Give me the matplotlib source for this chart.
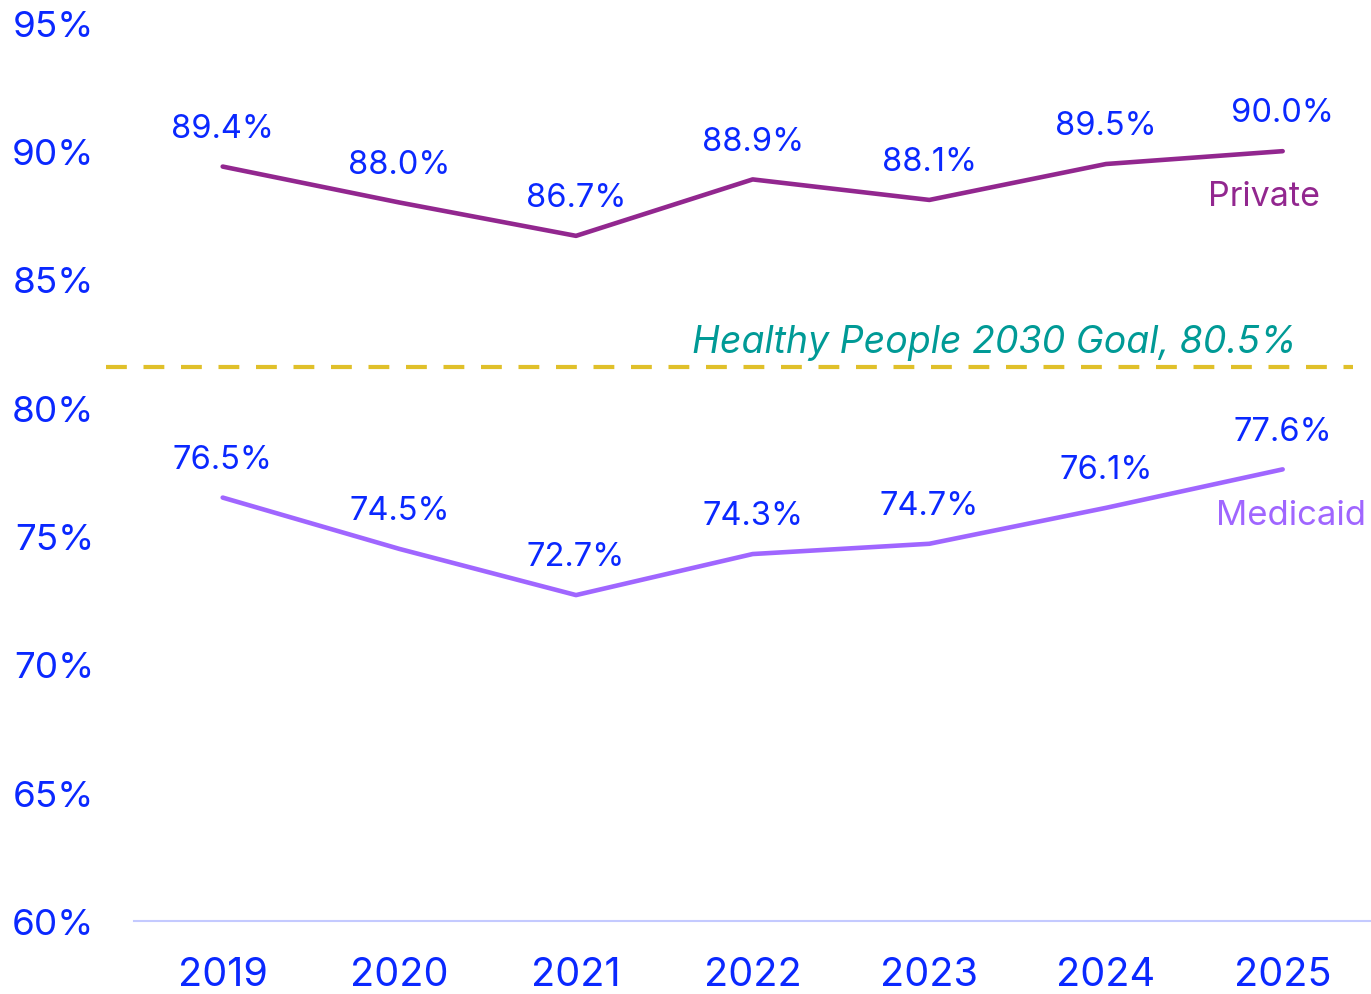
import matplotlib.pyplot as plt
import numpy as np

# data
years = ['2019', '2020', '2021', '2022', '2023', '2024', '2025']
private = [89.4, 88.0, 86.7, 88.9, 88.1, 89.5, 90.0]
medicaid = [76.5, 74.5, 72.7, 74.3, 74.7, 76.1, 77.6]
goal_line = 81.6   # where the dashed line sits in the picture
goal_text = 'Healthy People 2030 Goal, 80.5%'
yticks = [60, 65, 70, 75, 80, 85, 90, 95]

BLUE = '#0a28ff'
PRIV = '#92278f'
MEDI = '#a066ff'
TEAL = '#009a96'
GOLD = '#e0c02a'

plt.rcParams['font.family'] = ['Inter', 'DejaVu Sans']

fig = plt.figure(figsize=(13.71, 9.95), dpi=100)
ax = fig.add_axes([0.098, 0.0734, 0.902, 0.9026])

x = np.arange(len(years))
ax.plot(x, private, color=PRIV, lw=3.3, solid_capstyle='round')
ax.plot(x, medicaid, color=MEDI, lw=3.3, solid_capstyle='round')

for xi, v in zip(x, private):
    ax.annotate(f'{v:.1f}%', (xi, v), xytext=(0, 27.5), textcoords='offset points',
                ha='center', va='center', color=BLUE, fontsize=23.5)
for xi, v in zip(x, medicaid):
    ax.annotate(f'{v:.1f}%', (xi, v), xytext=(0, 27.5), textcoords='offset points',
                ha='center', va='center', color=BLUE, fontsize=23.5)

ax.annotate('Private', (x[-1], private[-1]), xytext=(27, -32), textcoords='offset points',
            ha='right', va='center', color=PRIV, fontsize=24.5)
ax.annotate('Medicaid', (x[-1], medicaid[-1]), xytext=(60, -33), textcoords='offset points',
            ha='right', va='center', color=MEDI, fontsize=25, annotation_clip=False)

ax.plot([-0.66, 6.4], [goal_line, goal_line], color=GOLD, lw=3,
        dashes=(5, 4), clip_on=False)
ax.annotate(goal_text, (6.08, goal_line), xytext=(0, 18), textcoords='offset points',
            ha='right', va='center', color=TEAL, fontsize=27, style='italic')

ax.set_xlim(-0.5, 6.5)
ax.set_ylim(60, 95)
ax.set_xticks(x)
ax.set_xticklabels(years)
ax.set_yticks(yticks)
ax.set_yticklabels([f'{t}%' for t in yticks])
ax.tick_params(axis='both', length=0, labelcolor=BLUE)
ax.tick_params(axis='y', pad=29, labelsize=26.5)
ax.tick_params(axis='x', pad=25, labelsize=28.5)
for s in ['top', 'right', 'left']:
    ax.spines[s].set_visible(False)
ax.spines['bottom'].set_color('#c4caff')
ax.spines['bottom'].set_linewidth(1.5)

fig.savefig('out.png', dpi=100)
